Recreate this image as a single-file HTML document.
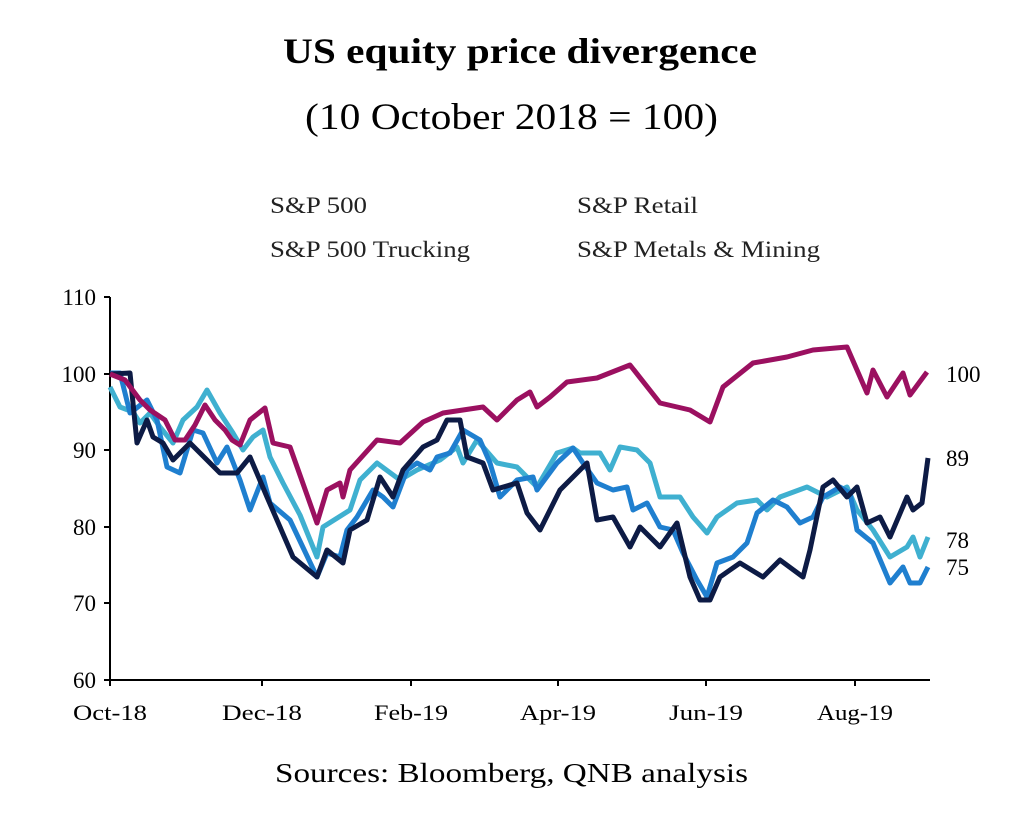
<!DOCTYPE html>
<html><head><style>body{margin:0;background:#fff}</style></head><body>
<svg width="1019" height="823" xmlns="http://www.w3.org/2000/svg" font-family="Liberation Serif, serif">
<rect width="1019" height="823" fill="#fff"/>
<text x="283" y="63" font-size="36" font-weight="bold" textLength="474" lengthAdjust="spacingAndGlyphs">US equity price divergence</text>
<text x="305" y="129" font-size="37" textLength="413" lengthAdjust="spacingAndGlyphs">(10 October 2018 = 100)</text>
<g font-size="23" fill="#222" lengthAdjust="spacingAndGlyphs">
<text x="270" y="213" textLength="97" lengthAdjust="spacingAndGlyphs">S&amp;P 500</text>
<text x="577" y="213" textLength="121" lengthAdjust="spacingAndGlyphs">S&amp;P Retail</text>
<text x="270" y="257" textLength="200" lengthAdjust="spacingAndGlyphs">S&amp;P 500 Trucking</text>
<text x="577" y="257" textLength="243" lengthAdjust="spacingAndGlyphs">S&amp;P Metals &amp; Mining</text>
</g>
<g stroke="#000" stroke-width="2">
<line x1="110" y1="297" x2="110" y2="680"/>
<line x1="110" y1="680" x2="930" y2="680"/>
<line x1="104" y1="297" x2="110" y2="297"/><line x1="104" y1="374" x2="110" y2="374"/><line x1="104" y1="450" x2="110" y2="450"/><line x1="104" y1="527" x2="110" y2="527"/><line x1="104" y1="603" x2="110" y2="603"/><line x1="104" y1="680" x2="110" y2="680"/>
<line x1="262" y1="680" x2="262" y2="686"/><line x1="411" y1="680" x2="411" y2="686"/><line x1="558" y1="680" x2="558" y2="686"/><line x1="706" y1="680" x2="706" y2="686"/><line x1="855" y1="680" x2="855" y2="686"/><line x1="110" y1="680" x2="110" y2="686"/>
</g>
<g font-size="23" text-anchor="end">
<text x="96" y="305">110</text><text x="96" y="382">100</text><text x="96" y="458">90</text><text x="96" y="535">80</text><text x="96" y="611">70</text><text x="96" y="688">60</text>
</g>
<g font-size="22" text-anchor="middle">
<text x="110" y="720" textLength="74" lengthAdjust="spacingAndGlyphs">Oct-18</text><text x="262" y="720" textLength="80" lengthAdjust="spacingAndGlyphs">Dec-18</text><text x="411" y="720" textLength="74" lengthAdjust="spacingAndGlyphs">Feb-19</text><text x="558" y="720" textLength="76" lengthAdjust="spacingAndGlyphs">Apr-19</text><text x="706" y="720" textLength="74" lengthAdjust="spacingAndGlyphs">Jun-19</text><text x="855" y="720" textLength="76" lengthAdjust="spacingAndGlyphs">Aug-19</text>
</g>
<g fill="none" stroke-width="5" stroke-linejoin="round">
<polyline stroke="#3fb0d0" points="110,387 120,407 133,412 140,423 150,413 160,427 173,443 183,420 197,407 207,390 220,413 233,433 243,450 253,437 263,430 270,457 283,483 300,515 317,557 323,527 350,510 360,480 377,463 400,480 417,470 440,460 457,447 463,463 477,440 497,463 517,467 537,487 557,453 573,448 580,453 600,453 610,470 620,447 637,450 650,463 660,497 680,497 693,517 707,533 717,517 737,503 757,500 767,510 780,497 807,487 827,497 847,487 857,510 873,530 890,557 907,547 913,537 920,557 928,537"/>
<polyline stroke="#1f7fcf" points="110,373 120,373 130,413 147,400 157,420 167,467 180,473 193,430 203,433 217,463 227,447 240,480 250,510 263,477 270,503 290,520 317,577 327,553 340,557 347,530 357,517 373,490 383,497 393,507 407,470 417,463 430,470 437,457 450,453 463,430 480,440 490,463 500,497 517,480 533,477 537,490 557,463 573,448 583,463 597,483 613,490 627,487 633,510 647,503 660,527 673,530 683,553 697,580 707,597 717,563 733,557 747,543 757,513 773,500 787,507 800,523 813,517 823,497 840,487 850,493 857,530 873,543 890,583 903,567 910,583 920,583 928,567"/>
<polyline stroke="#0d1b45" points="110,374 130,373 137,443 147,420 153,437 163,443 173,460 190,443 207,460 220,473 237,473 250,457 267,497 293,557 317,577 327,550 343,563 350,530 367,520 380,477 393,497 403,470 423,447 437,440 447,420 460,420 467,457 483,463 493,490 517,483 527,513 540,530 560,490 577,473 587,463 597,520 613,517 630,547 640,527 660,547 677,523 690,577 700,600 710,600 720,577 740,563 763,577 780,560 803,577 810,550 823,487 833,480 847,497 857,487 867,523 880,517 890,537 907,497 913,510 922,503 928,458"/>
<polyline stroke="#9b1060" points="110,374 125,380 140,400 150,410 165,420 175,440 185,440 195,425 205,405 215,420 225,430 232,440 240,445 250,420 265,408 273,443 290,447 317,523 327,490 340,483 343,497 350,470 377,440 400,443 423,422 443,413 483,407 497,420 517,400 530,392 537,407 550,397 567,382 597,378 630,365 660,403 690,410 710,422 723,387 753,363 787,357 813,350 847,347 867,393 873,370 887,397 903,373 910,395 927,372"/>
</g>
<g font-size="23">
<text x="946" y="382">100</text><text x="946" y="466">89</text><text x="946" y="548">78</text><text x="946" y="575">75</text>
</g>
<text x="275" y="782" font-size="27" textLength="473" lengthAdjust="spacingAndGlyphs">Sources: Bloomberg, QNB analysis</text>
</svg>
</body></html>
